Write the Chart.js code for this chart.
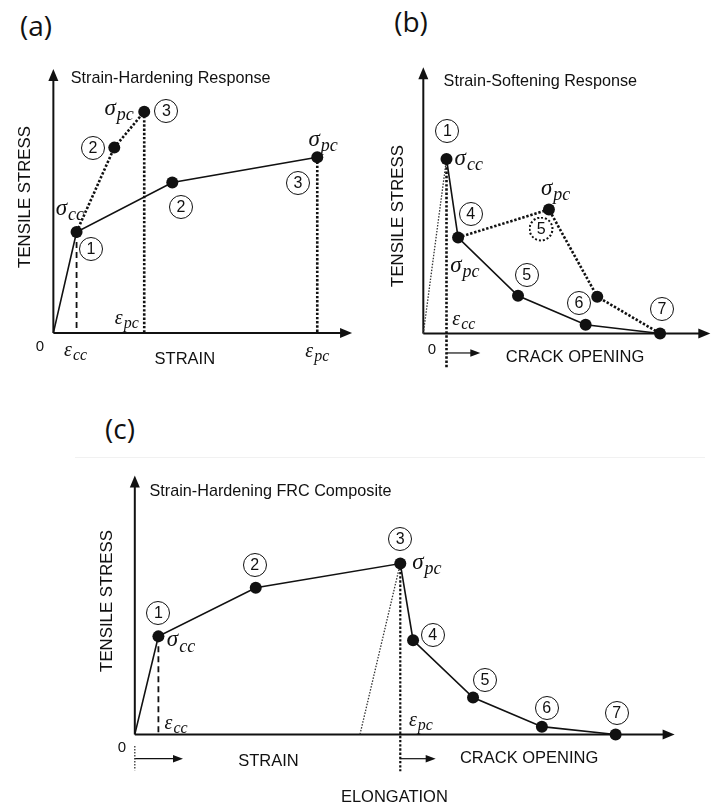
<!DOCTYPE html>
<html>
<head>
<meta charset="utf-8">
<script src="https://cdn.jsdelivr.net/npm/chart.js@4.4.1/dist/chart.umd.min.js"></script>
<style>
html,body{margin:0;padding:0;background:#fff;}
body{width:717px;height:811px;position:relative;overflow:hidden;font-family:"Liberation Sans",Arial,sans-serif;color:#111;}
.panel{position:absolute;}
.panel canvas{position:absolute;left:0;top:0;}
.lbl{position:absolute;transform:translate(-50%,-50%);white-space:nowrap;line-height:1;}
.cap{font-size:16.5px;}
.cap0{font-size:15px;}
.title{font-size:16.2px;transform:translate(0,-50%);}
.rot{font-size:16.8px;transform:translate(-50%,-50%) rotate(-90deg);}
.num{width:22px;height:22px;border:1.8px solid #111;border-radius:50%;font-size:16px;display:flex;align-items:center;justify-content:center;}
.dotc{border:2.2px dotted #111;width:21px;height:21px;}
.gr{font-family:"Liberation Serif","Times New Roman",serif;font-style:italic;font-size:23px;}
.gr .sb{font-size:18px;vertical-align:-0.3em;margin-left:1px;}
.grs{font-family:"Liberation Serif","Times New Roman",serif;font-style:italic;font-size:20px;}
.grs .sb{font-size:16px;vertical-align:-0.25em;margin-left:1px;}
.plab{position:absolute;font-family:"Open Sans",sans-serif;font-size:28px;line-height:1;transform:translate(-50%,-50%);}
.sep{position:absolute;left:75px;top:457px;width:630px;height:1px;background:#f1f1f1;}
</style>
</head>
<body>
<div class="plab" style="left:36px;top:25px">(a)</div>
<div class="plab" style="left:411px;top:21px">(b)</div>
<div class="plab" style="left:120px;top:428px">(c)</div>
<div class="sep"></div>
<div class="panel" id="pa" style="left:0;top:0;width:360px;height:400px"><canvas id="ca" width="360" height="400"></canvas></div>
<div class="panel" id="pb" style="left:360px;top:0;width:357px;height:400px"><canvas id="cb" width="357" height="400"></canvas></div>
<div class="panel" id="pc" style="left:0;top:400px;width:717px;height:411px"><canvas id="cc" width="717" height="411"></canvas></div>
<script>
// ---------- DATA (arbitrary units) ----------
// (a) Strain-hardening response
const aStrainSolid  = [0, 24, 123, 273];
const aStressSolid  = [0, 104, 155, 181];
const aStrainDotted = [24, 63, 94];
const aStressDotted = [104, 191, 228];

// (b) Strain-softening response (points 1,4,5,6,7)
const bOpening       = [24, 36, 98, 168, 245];
const bStress        = [180, 99, 39, 9, 0];
const bOpeningDotted = [36, 130, 180, 245];
const bStressDotted  = [99, 128, 38, 0];

// (c) Strain-hardening FRC composite (origin, points 1..7)
const cElongation = [0, 24, 123, 270, 283, 344, 414, 489];
const cStress     = [0, 101, 151, 176, 97, 38, 8, 0];
const cUnloadEnd  = 229;

// ---------- STYLES ----------
const INK = '#111';
function ser(xs, ys, style) {
  return Object.assign({
    data: xs.map((x, i) => ({x: x, y: ys[i]})),
    showLine: true, fill: false, tension: 0, clip: false,
    borderColor: INK, borderWidth: 1.5, borderCapStyle: 'butt',
    pointRadius: 0, pointBackgroundColor: INK, pointBorderColor: INK, pointBorderWidth: 0
  }, style || {});
}
const solid   = {borderWidth: 1.6};
const thickDot = {borderWidth: 2.6, borderDash: [2.4, 1.8]};
const dashed  = {borderWidth: 1.8, borderDash: [6, 4]};
const thinDot = {borderWidth: 1.3, borderDash: [1.5, 1.5], borderColor: '#333'};
const R = 6;

function arrowHead(ctx, x, y, ang, len, hw) {
  ctx.save();
  ctx.translate(x, y); ctx.rotate(ang);
  ctx.beginPath(); ctx.moveTo(0, 0); ctx.lineTo(-len, -hw); ctx.lineTo(-len, hw); ctx.closePath();
  ctx.fill(); ctx.restore();
}
const sketchPlugin = {
  id: 'sketch',
  beforeDatasetsDraw(chart, args, opts) {
    const ctx = chart.ctx, xs = chart.scales.x, ys = chart.scales.y;
    const ox = xs.getPixelForValue(0), oy = ys.getPixelForValue(0);
    const xe = xs.getPixelForValue(opts.xEnd), ye = ys.getPixelForValue(opts.yEnd);
    ctx.save();
    ctx.strokeStyle = INK; ctx.fillStyle = INK; ctx.lineWidth = 2;
    ctx.beginPath(); ctx.moveTo(ox, oy); ctx.lineTo(xe - 11, oy); ctx.stroke();
    ctx.beginPath(); ctx.moveTo(ox, oy); ctx.lineTo(ox, ye + 11); ctx.stroke();
    arrowHead(ctx, xe, oy, 0, 12, 5);
    arrowHead(ctx, ox, ye, -Math.PI / 2, 12, 5);
    ctx.lineWidth = 1.2;
    (opts.arrows || []).forEach(a => {
      const x1 = xs.getPixelForValue(a[0]), x2 = xs.getPixelForValue(a[1]), y = ys.getPixelForValue(a[2]);
      ctx.beginPath(); ctx.moveTo(x1, y); ctx.lineTo(x2 - 8, y); ctx.stroke();
      arrowHead(ctx, x2, y, 0, 10, 3.8);
    });
    ctx.restore();
  }
};

function makeChart(id, xr, yr, datasets, sk) {
  return new Chart(document.getElementById(id), {
    type: 'scatter',
    data: {datasets: datasets},
    options: {
      responsive: false, animation: false, events: [],
      layout: {padding: 0},
      plugins: {legend: {display: false}, tooltip: {enabled: false}, sketch: sk},
      scales: {
        x: {type: 'linear', min: xr[0], max: xr[1], display: false},
        y: {type: 'linear', min: yr[0], max: yr[1], display: false}
      }
    },
    plugins: [sketchPlugin]
  });
}

// ---------- PANEL (a) ----------
const chA = makeChart('ca', [-49, 311], [-63, 337], [
  ser(aStrainSolid, aStressSolid, Object.assign({}, solid, {pointRadius: [0, R, R, R]})),
  ser(aStrainDotted, aStressDotted, Object.assign({}, thickDot, {pointRadius: [0, R, R]})),
  ser([aStrainSolid[1], aStrainSolid[1]], [aStressSolid[1], 0], dashed),
  ser([aStrainDotted[2], aStrainDotted[2]], [aStressDotted[2], 0], thickDot),
  ser([aStrainSolid[3], aStrainSolid[3]], [aStressSolid[3], 0], thickDot)
], {xEnd: 309, yEnd: 272, arrows: []});

// ---------- PANEL (b) ----------
const chB = makeChart('cb', [-59.3, 297.7], [-62.3, 337.7], [
  ser(bOpening, bStress, Object.assign({}, solid, {pointRadius: R})),
  ser(bOpeningDotted, bStressDotted, Object.assign({}, thickDot, {pointRadius: [0, R, R, 0]})),
  ser([0, bOpening[0]], [0, bStress[0]], thinDot),
  ser([bOpening[0], bOpening[0]], [bStress[0], -35], thickDot)
], {xEnd: 297, yEnd: 274.5, arrows: [[bOpening[0], bOpening[0] + 35, -20]]});

// ---------- PANEL (c) ----------
const chC = makeChart('cc', [-131, 586], [-72.7, 338.3], [
  ser(cElongation, cStress, Object.assign({}, solid, {pointRadius: [0, R, R, R, R, R, R, R]})),
  ser([cElongation[1], cElongation[1]], [cStress[1], 0], dashed),
  ser([cElongation[3], cElongation[3]], [cStress[3], -38], Object.assign({}, thickDot, {borderWidth: 2.2})),
  ser([cElongation[3], cUnloadEnd], [cStress[3], 0], thinDot),
  ser([0, 0], [-12, -37], thinDot)
], {xEnd: 549, yEnd: 266.6, arrows: [[0, 49, -25], [cElongation[3], cElongation[3] + 36, -25]]});

// ---------- TEXT LABELS (HTML, placed through the chart scales) ----------
const notesA = [
  {t:'σ', s:'cc', x:17, y:127, k:'gr'},
  {t:'1', x:39, y:87, k:'num'},
  {t:'2', x:41, y:191, k:'num'},
  {t:'σ', s:'pc', x:68, y:230, k:'gr'},
  {t:'3', x:117, y:229, k:'num'},
  {t:'2', x:132, y:130, k:'num'},
  {t:'3', x:253, y:155, k:'num'},
  {t:'σ', s:'pc', x:279, y:198, k:'gr'},
  {t:'ε', s:'pc', x:76, y:14, k:'grs'},
  {t:'0', x:-14, y:-12, k:'cap0'},
  {t:'ε', s:'cc', x:23, y:-19, k:'grs'},
  {t:'STRAIN', x:136, y:-26, k:'cap'},
  {t:'ε', s:'pc', x:273, y:-20, k:'grs'},
  {t:'TENSILE STRESS', x:-29, y:140, k:'rot'},
  {t:'Strain-Hardening Response', x:18, y:264, k:'title'}
];
const notesB = [
  {t:'1', x:25, y:209, k:'num'},
  {t:'σ', s:'cc', x:47, y:179, k:'gr'},
  {t:'4', x:49, y:123, k:'num'},
  {t:'σ', s:'pc', x:137, y:148, k:'gr'},
  {t:'5', x:122, y:108, k:'num dotc'},
  {t:'σ', s:'pc', x:43, y:69, k:'gr'},
  {t:'5', x:107, y:60, k:'num'},
  {t:'6', x:161, y:31, k:'num'},
  {t:'7', x:247, y:25, k:'num'},
  {t:'ε', s:'cc', x:42, y:14, k:'grs'},
  {t:'0', x:9, y:-15, k:'cap0'},
  {t:'CRACK OPENING', x:157, y:-23, k:'cap'},
  {t:'TENSILE STRESS', x:-26, y:121, k:'rot'},
  {t:'Strain-Softening Response', x:21, y:261, k:'title'}
];
const notesC = [
  {t:'1', x:24, y:125, k:'num'},
  {t:'σ', s:'cc', x:47, y:96, k:'gr'},
  {t:'2', x:122, y:175, k:'num'},
  {t:'3', x:270, y:201, k:'num'},
  {t:'σ', s:'pc', x:297, y:176, k:'gr'},
  {t:'4', x:303, y:102, k:'num'},
  {t:'5', x:356, y:56, k:'num'},
  {t:'6', x:419, y:27, k:'num'},
  {t:'7', x:490, y:22, k:'num'},
  {t:'ε', s:'cc', x:42, y:11, k:'grs'},
  {t:'ε', s:'pc', x:291, y:14, k:'grs'},
  {t:'0', x:-13, y:-12, k:'cap0'},
  {t:'STRAIN', x:136, y:-26, k:'cap'},
  {t:'CRACK OPENING', x:401, y:-23, k:'cap'},
  {t:'ELONGATION', x:264, y:-63, k:'cap'},
  {t:'TENSILE STRESS', x:-28, y:137, k:'rot'},
  {t:'Strain-Hardening FRC Composite', x:15, y:252, k:'title'}
];
function place(panelId, chart, notes) {
  const host = document.getElementById(panelId);
  notes.forEach(n => {
    const d = document.createElement('div');
    d.className = 'lbl ' + n.k;
    const m = document.createElement('span');
    m.textContent = n.t;
    d.appendChild(m);
    if (n.s) {
      const s = document.createElement('span');
      s.className = 'sb';
      s.textContent = n.s;
      d.appendChild(s);
    }
    d.style.left = chart.scales.x.getPixelForValue(n.x) + 'px';
    d.style.top = chart.scales.y.getPixelForValue(n.y) + 'px';
    host.appendChild(d);
  });
}
place('pa', chA, notesA);
place('pb', chB, notesB);
place('pc', chC, notesC);
</script>
</body>
</html>
